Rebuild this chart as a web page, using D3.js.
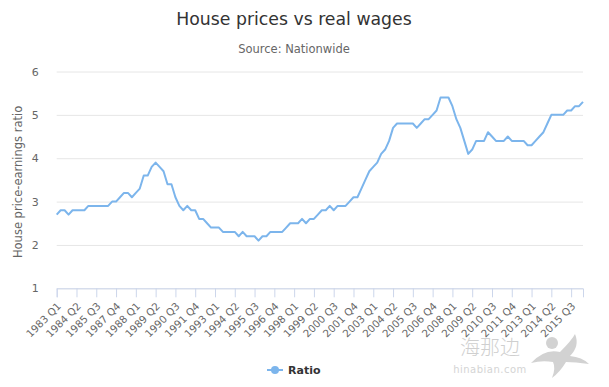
<!DOCTYPE html>
<html>
<head>
<meta charset="utf-8">
<script src="https://cdn.jsdelivr.net/npm/d3@7"></script>
<style>
  body { margin: 0; background: #fff; }
  svg { display: block; font-family: "DejaVu Sans", sans-serif; }
</style>
</head>
<body>
<div id="chart"></div>
<script>
// quarterly ratio, 1983 Q1 .. 2016 Q2
const ratio = [
  2.7, 2.8, 2.8, 2.7, 2.8, 2.8, 2.8, 2.8, 2.9, 2.9,
  2.9, 2.9, 2.9, 2.9, 3.0, 3.0, 3.1, 3.2, 3.2, 3.1,
  3.2, 3.3, 3.6, 3.6, 3.8, 3.9, 3.8, 3.7, 3.4, 3.4,
  3.1, 2.9, 2.8, 2.9, 2.8, 2.8, 2.6, 2.6, 2.5, 2.4,
  2.4, 2.4, 2.3, 2.3, 2.3, 2.3, 2.2, 2.3, 2.2, 2.2,
  2.2, 2.1, 2.2, 2.2, 2.3, 2.3, 2.3, 2.3, 2.4, 2.5,
  2.5, 2.5, 2.6, 2.5, 2.6, 2.6, 2.7, 2.8, 2.8, 2.9,
  2.8, 2.9, 2.9, 2.9, 3.0, 3.1, 3.1, 3.3, 3.5, 3.7,
  3.8, 3.9, 4.1, 4.2, 4.4, 4.7, 4.8, 4.8, 4.8, 4.8,
  4.8, 4.7, 4.8, 4.9, 4.9, 5.0, 5.1, 5.4, 5.4, 5.4,
  5.2, 4.9, 4.7, 4.4, 4.1, 4.2, 4.4, 4.4, 4.4, 4.6,
  4.5, 4.4, 4.4, 4.4, 4.5, 4.4, 4.4, 4.4, 4.4, 4.3,
  4.3, 4.4, 4.5, 4.6, 4.8, 5.0, 5.0, 5.0, 5.0, 5.1,
  5.1, 5.2, 5.2, 5.3
];
const tickLabels = [
  "1983 Q1", "1984 Q2", "1985 Q3", "1987 Q4", "1988 Q1", "1989 Q2", "1990 Q3",
  "1991 Q4", "1993 Q1", "1994 Q2", "1995 Q3", "1996 Q4", "1998 Q1", "1999 Q2",
  "2000 Q3", "2001 Q4", "2003 Q1", "2004 Q2", "2005 Q3", "2006 Q4", "2008 Q1",
  "2009 Q2", "2010 Q3", "2011 Q4", "2013 Q1", "2014 Q2", "2015 Q3"
];
const yTicks = [1, 2, 3, 4, 5, 6];

const W = 609, H = 387;
const m = { left: 56.7, right: 583, top: 71.5, bottom: 288.3 };

const svg = d3.select('#chart').append('svg')
  .attr('width', W).attr('height', H);

const x = d3.scaleLinear().domain([0, ratio.length - 1]).range([m.left, m.right]);
const y = d3.scaleLinear().domain([1, 6]).range([m.bottom, m.top]);

// title + subtitle
svg.append('text').attr('x', 294).attr('y', 25)
  .attr('text-anchor', 'middle').attr('fill', '#333').attr('font-size', 17.3)
  .text('House prices vs real wages');
svg.append('text').attr('x', 294).attr('y', 53)
  .attr('text-anchor', 'middle').attr('fill', '#666').attr('font-size', 11.5)
  .text('Source: Nationwide');

// y grid + labels
const yAxis = svg.append('g')
  .attr('transform', `translate(${m.left},0)`)
  .call(d3.axisLeft(y).tickValues(yTicks).tickSize(-(m.right - m.left)).tickFormat(d3.format('d')));
yAxis.select('.domain').remove();
yAxis.selectAll('line').attr('stroke', '#e6e6e6');
yAxis.selectAll('text').attr('fill', '#666').attr('font-size', 11)
  .attr('font-family', '"DejaVu Sans", sans-serif').attr('x', -18);

svg.append('text')
  .attr('transform', `translate(22,${(m.top + m.bottom) / 2 + 2}) rotate(-90)`)
  .attr('text-anchor', 'middle').attr('fill', '#666').attr('font-size', 11.5)
  .text('House price-earnings ratio');

// x axis
const tickIdx = tickLabels.map((d, i) => i * 5);
const xAxis = svg.append('g')
  .attr('transform', `translate(0,${m.bottom})`)
  .call(d3.axisBottom(x).tickValues(tickIdx).tickSize(9).tickFormat((d, i) => tickLabels[i]));
xAxis.select('.domain').attr('stroke', '#ccd6eb');
xAxis.selectAll('line').attr('stroke', '#ccd6eb');
xAxis.selectAll('text')
  .attr('fill', '#666').attr('font-size', 10.3)
  .attr('font-family', '"DejaVu Sans", sans-serif')
  .attr('text-anchor', 'end')
  .attr('y', 0).attr('dy', '0.35em')
  .attr('transform', 'translate(2,16) rotate(-45)');

// line
const line = d3.line()
  .x((d, i) => x(i))
  .y(d => y(d));
svg.append('path')
  .datum(ratio)
  .attr('fill', 'none')
  .attr('stroke', '#7cb5ec')
  .attr('stroke-width', 2)
  .attr('stroke-linejoin', 'round')
  .attr('d', line);

// legend
const lg = svg.append('g').attr('transform', 'translate(267,374)');
lg.append('line').attr('x1', 0).attr('x2', 16).attr('y1', -4).attr('y2', -4)
  .attr('stroke', '#7cb5ec').attr('stroke-width', 2);
lg.append('circle').attr('cx', 8).attr('cy', -4).attr('r', 4).attr('fill', '#7cb5ec');
lg.append('text').attr('x', 21).attr('y', 0)
  .attr('fill', '#333').attr('font-size', 11).attr('font-weight', 'bold')
  .text('Ratio');

// watermark
svg.append('text').attr('x', 490).attr('y', 355)
  .attr('text-anchor', 'middle').attr('fill', '#cfcfcf').attr('font-size', 20)
  .attr('font-weight', 300)
  .attr('font-family', '"Noto Sans CJK SC", sans-serif')
  .text('海那边');
svg.append('text').attr('x', 490).attr('y', 373)
  .attr('text-anchor', 'middle').attr('fill', '#d4d4d4').attr('font-size', 10)
  .attr('letter-spacing', 0.5)
  .text('hinabian.com');
const bird = svg.append('g').attr('fill', '#d2d2d2');
bird.append('path')
  .attr('d', 'M531,363 Q545,348 560,352 Q572,340 575,334 Q580,346 570,356 Q582,357 589,364 Q575,362 566,362 Q560,372 552,378 Q556,368 553,362 Q542,360 531,363 Z');
bird.append('circle').attr('cx', 552).attr('cy', 343).attr('r', 6);
</script>
</body>
</html>
